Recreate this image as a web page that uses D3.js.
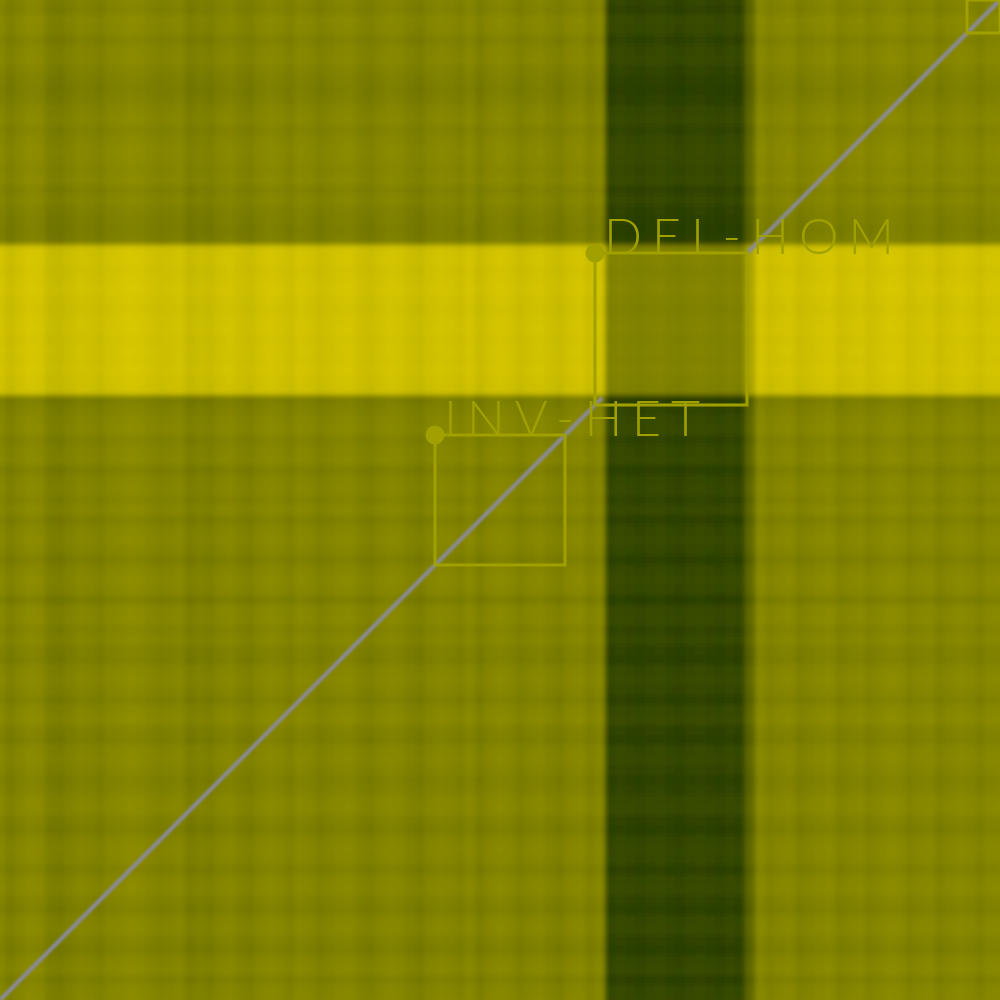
<!DOCTYPE html>
<html>
<head>
<meta charset="utf-8">
<script src="https://cdn.jsdelivr.net/npm/d3@7"></script>
<style>
html,body{margin:0;padding:0;background:#808000;}
svg{display:block;}
</style>
</head>
<body>
<svg id="chart" width="1000" height="1000"></svg>
<script>
// Column profile (left -> right), bins of 10 units centred on 0,10,...,1000
const colVals = [
  0.05,-0.06,0.02,0.08,0.06,-0.08,-0.10,-0.04,0.02,0.00,
  -0.05,0.03,0.05,0.09,0.07,0.02,-0.02,0.00,0.03,-0.09,
  -0.04,-0.07,0.01,0.04,-0.02,-0.06,0.02,0.06,0.03,-0.03,
  0.05,0.02,-0.05,0.00,0.04,0.06,-0.02,-0.06,0.01,0.05,
  0.03,-0.04,-0.08,0.00,0.04,0.02,-0.03,0.05,-0.07,0.02,
  0.06,0.03,-0.05,0.01,0.04,-0.02,-0.07,0.02,0.05,-0.04,
  0.03,-0.86,-0.82,-0.85,-0.87,-0.84,-0.82,-0.86,-0.88,-0.84,
  -0.82,-0.85,-0.87,-0.83,-0.86,-0.40,0.06,-0.03,0.02,0.05,
  -0.05,0.00,0.04,0.07,-0.03,0.02,0.05,-0.02,0.03,0.08,
  0.06,-0.02,0.03,0.05,-0.04,0.02,0.06,0.03,-0.03,0.04,
  0.05
];
// Row profile (top -> bottom), bins of 10 units centred on 1000,990,...,0
const rowVals = [
  0.00,-0.03,0.05,0.03,-0.04,0.02,0.04,-0.02,-0.06,-0.08,
  -0.05,0.01,0.04,-0.02,0.03,0.06,0.05,0.02,0.05,-0.03,
  0.02,-0.04,-0.07,-0.09,-0.06,0.84,0.86,0.83,0.85,0.87,
  0.84,0.82,0.85,0.86,0.83,0.85,0.84,0.86,0.83,0.81,
  -0.08,-0.02,0.03,0.05,-0.03,0.02,0.04,-0.06,0.01,0.03,
  -0.02,0.04,-0.05,0.02,0.05,0.01,-0.06,0.02,0.06,0.03,
  -0.07,0.04,0.05,-0.02,0.03,-0.04,-0.06,0.02,0.05,0.01,
  -0.05,0.03,0.06,-0.03,-0.06,0.02,0.04,0.00,-0.05,-0.02,
  0.04,0.05,-0.03,-0.07,0.01,0.04,0.02,-0.05,0.03,0.05,
  -0.02,-0.06,0.02,0.04,-0.03,-0.07,0.01,0.04,-0.05,0.02,
  0.03
];
// Annotated regions (genomic units, same for x and y)
const regions = [
  {label: "DEL-HOM", start: 595, end: 747, marker: true},
  {label: "INV-HET", start: 435, end: 565, marker: true},
  {label: "", start: 967, end: 1000, marker: false}
];
// Diagonal segments (gap where the homozygous deletion removes contacts)
const diagonalSegments = [[0, 602], [748, 1000]];

const W = 1000, H = 1000;
const svg = d3.select("#chart");
const defs = svg.append("defs");
defs.append("filter").attr("id", "blur").attr("x", "-2%").attr("y", "-2%").attr("width", "104%").attr("height", "104%")
  .append("feGaussianBlur").attr("stdDeviation", 2.6).attr("edgeMode", "duplicate");
defs.append("filter").attr("id", "soft").attr("x", "-5%").attr("y", "-5%").attr("width", "110%").attr("height", "110%")
  .append("feGaussianBlur").attr("stdDeviation", 0.9);

const xBand = d3.scaleBand().domain(d3.range(colVals.length)).range([-5, 1005]);
const yBand = d3.scaleBand().domain(d3.range(rowVals.length)).range([-5, 1005]);
const x = d3.scaleLinear().domain([0, 1000]).range([0, W]);
const y = d3.scaleLinear().domain([0, 1000]).range([H, 0]);
const color = d3.scaleLinear().domain([-1, 0, 1]).range(["#243a00", "#818200", "#dccb00"]).clamp(true);

const cells = [];
rowVals.forEach((r, i) => colVals.forEach((c, j) => cells.push({i, j, v: r + c})));

svg.append("g").attr("filter", "url(#blur)")
  .selectAll("rect").data(cells).join("rect")
  .attr("x", d => xBand(d.j))
  .attr("y", d => yBand(d.i))
  .attr("width", xBand.bandwidth() + 0.5)
  .attr("height", yBand.bandwidth() + 0.5)
  .attr("fill", d => color(d.v));

svg.append("g").attr("filter", "url(#soft)")
  .selectAll("path").data(diagonalSegments).join("path")
  .attr("d", s => d3.line().x(d => x(d)).y(d => y(d))(s))
  .attr("stroke", "#8a8a9c").attr("stroke-width", 4).attr("fill", "none");

const ann = svg.append("g");
const annColor = "#a0a000";
ann.selectAll("rect").data(regions).join("rect")
  .attr("x", d => x(d.start))
  .attr("y", d => y(d.end))
  .attr("width", d => x(d.end) - x(d.start))
  .attr("height", d => y(d.start) - y(d.end))
  .attr("fill", "none").attr("stroke", annColor).attr("stroke-width", 3);

const marked = regions.filter(d => d.marker);
ann.selectAll("circle").data(marked).join("circle")
  .attr("cx", d => x(d.start)).attr("cy", d => y(d.end)).attr("r", 9.5)
  .attr("fill", annColor);

ann.selectAll("text").data(marked).join("text")
  .attr("x", d => x(d.start) + 9)
  .attr("y", d => y(d.end) + 1)
  .attr("font-family", "Lato, 'DejaVu Sans', sans-serif")
  .attr("font-weight", 300)
  .attr("font-size", 50)
  .attr("fill", annColor)
  .attr("textLength", d => d.label === "DEL-HOM" ? 290 : 256)
  .attr("lengthAdjust", "spacing")
  .text(d => d.label);
</script>
</body>
</html>
